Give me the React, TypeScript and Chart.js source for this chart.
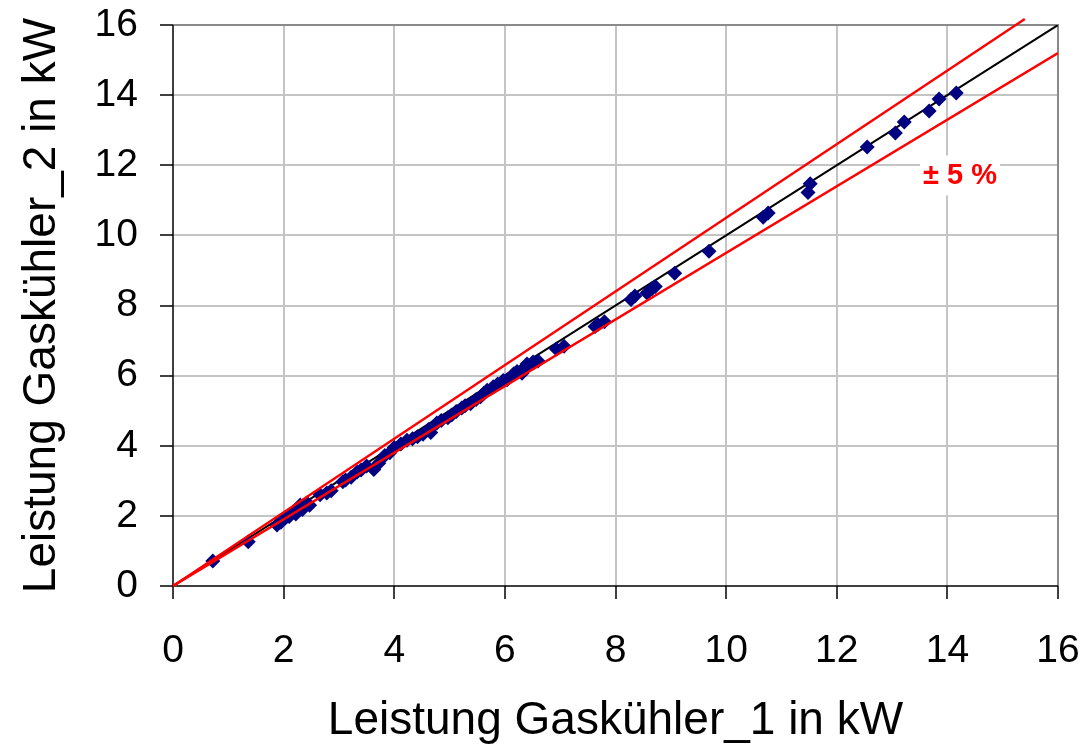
import React, { useEffect, useRef } from "react";
import { Chart, registerables } from "chart.js";

Chart.register(...registerables);

const measuredX = [
  0.72, 1.36, 1.88, 1.95, 2.03, 2.1, 2.17, 2.22, 2.3, 2.34, 2.42, 2.47, 2.66, 2.78, 2.86,
  3.07, 3.12, 3.22, 3.33, 3.4, 3.5, 3.63, 3.72, 3.83, 3.92, 4.0, 4.12, 4.23, 4.33, 4.42,
  4.52, 4.62, 4.66, 4.77, 4.85, 4.97, 5.04, 5.12, 5.22, 5.28, 5.38, 5.48, 5.56, 5.62, 5.68,
  5.79, 5.87, 5.97, 6.04, 6.16, 6.22, 6.31, 6.36, 6.4, 6.51, 6.6, 6.93, 7.07, 7.63, 7.68,
  7.8, 8.28, 8.35, 8.57, 8.66, 8.72, 9.07, 9.69, 10.67, 10.76, 11.48, 11.52, 12.55, 13.06,
  13.22, 13.67, 13.85, 14.16,
];
const measuredY = [
  0.71, 1.26, 1.74, 1.82, 1.94, 1.98, 2.11, 2.05, 2.31, 2.18, 2.37, 2.3, 2.6, 2.65, 2.72,
  2.97, 3.02, 3.1, 3.25, 3.31, 3.42, 3.32, 3.5, 3.72, 3.8, 3.95, 4.05, 4.16, 4.2, 4.26,
  4.33, 4.46, 4.38, 4.65, 4.72, 4.8, 4.88, 4.98, 5.08, 5.14, 5.2, 5.32, 5.4, 5.5, 5.58,
  5.68, 5.76, 5.86, 5.88, 6.05, 6.12, 6.07, 6.22, 6.33, 6.39, 6.42, 6.76, 6.84, 7.4, 7.46,
  7.54, 8.17, 8.27, 8.36, 8.48, 8.54, 8.92, 9.55, 10.52, 10.64, 11.22, 11.47, 12.52, 12.92,
  13.23, 13.55, 13.89, 14.06,
];

const diagX = [0, 16];
const diagY = [0, 16];
const upperX = [0, 15.4];
const upperY = [0, 16.17];
const lowerX = [0, 16];
const lowerY = [0, 15.2];

const tickValues = [0, 2, 4, 6, 8, 10, 12, 14, 16];
const xTitle = "Leistung Gaskühler_1 in kW";
const yTitle = "Leistung Gaskühler_2 in kW";
const bandLabel = "± 5 %";
const bandLabelPos = { x: 14.23, y: 11.68 };

const FONT = "'Liberation Sans', Arial, sans-serif";

const zip = (xs: number[], ys: number[]) => xs.map((x, i) => ({ x, y: ys[i] }));

const gridColor = (c: any) =>
  c.tick && c.tick.value === 0 ? "rgba(0,0,0,0)" : c.tick && c.tick.value === 16 ? "#8a8a8a" : "#c4c4c4";

export default function App() {
  const ref = useRef<HTMLCanvasElement | null>(null);

  useEffect(() => {
    if (!ref.current) return;

    const labelPlugin = {
      id: "bandLabel",
      afterDatasetsDraw(chart: any) {
        const { ctx, scales } = chart;
        const px = scales.x.getPixelForValue(bandLabelPos.x);
        const py = scales.y.getPixelForValue(bandLabelPos.y);
        ctx.save();
        ctx.fillStyle = "#ffffff";
        ctx.fillRect(px - 40, py - 21, 80, 40);
        ctx.font = `bold 29px ${FONT}`;
        ctx.fillStyle = "#ff0000";
        ctx.textAlign = "center";
        ctx.textBaseline = "middle";
        ctx.fillText(bandLabel, px, py);
        ctx.restore();
      },
    };

    const frameBorder = {
      id: "frameBorder",
      beforeDatasetsDraw(chart: any) {
        const { ctx, chartArea } = chart;
        ctx.save();
        ctx.strokeStyle = "#8a8a8a";
        ctx.lineWidth = 2;
        ctx.beginPath();
        ctx.moveTo(chartArea.left, chartArea.top);
        ctx.lineTo(chartArea.right, chartArea.top);
        ctx.lineTo(chartArea.right, chartArea.bottom);
        ctx.stroke();
        ctx.strokeStyle = "#000000";
        ctx.lineWidth = 1.5;
        ctx.beginPath();
        ctx.moveTo(chartArea.left, chartArea.top);
        ctx.lineTo(chartArea.left, chartArea.bottom);
        ctx.lineTo(chartArea.right, chartArea.bottom);
        ctx.stroke();
        ctx.restore();
      },
    };

    const zeroPad = (s: any) => {
      s.paddingLeft = 0;
      s.paddingRight = 0;
      s.paddingTop = 0;
      s.paddingBottom = 0;
    };

    const chart = new Chart(ref.current, {
      type: "scatter",
      data: {
        datasets: [
          {
            label: "Messwerte",
            data: zip(measuredX, measuredY),
            backgroundColor: "#000080",
            borderColor: "#000080",
            pointStyle: "rectRot",
            pointRadius: 7.5,
            pointBorderWidth: 0,
            showLine: false,
            order: 1,
          },
          {
            label: "1:1",
            data: zip(diagX, diagY),
            type: "line",
            borderColor: "#000000",
            borderWidth: 2,
            pointRadius: 0,
            fill: false,
            order: 2,
          },
          {
            label: "+5%",
            data: zip(upperX, upperY),
            type: "line",
            borderColor: "#ff0000",
            borderWidth: 2.4,
            pointRadius: 0,
            fill: false,
            clip: 10,
            order: 0,
          },
          {
            label: "-5%",
            data: zip(lowerX, lowerY),
            type: "line",
            borderColor: "#ff0000",
            borderWidth: 2.4,
            pointRadius: 0,
            fill: false,
            order: 0,
          },
        ],
      } as any,
      options: {
        responsive: false,
        animation: false,
        events: [],
        layout: { padding: { left: 0, top: 25, right: 26, bottom: 0 } },
        plugins: {
          legend: { display: false },
          tooltip: { enabled: false },
        },
        scales: {
          x: {
            type: "linear",
            min: 0,
            max: 16,
            afterBuildTicks: (s: any) => {
              s.ticks = tickValues.map((v) => ({ value: v }));
            },
            afterFit: (s: any) => {
              s.height = 749 - 586;
              zeroPad(s);
            },
            grid: {
              color: gridColor,
              lineWidth: 2,
              tickColor: "#000000",
              tickLength: 13,
              tickWidth: 1.5,
            },
            border: { display: false },
            ticks: {
              color: "#000000",
              font: { family: FONT, size: 39 },
              padding: 29,
              maxRotation: 0,
            },
            title: {
              display: true,
              text: xTitle,
              color: "#000000",
              font: { family: FONT, size: 46 },
              padding: { top: 0, bottom: 0 },
            },
          },
          y: {
            type: "linear",
            min: 0,
            max: 16,
            afterBuildTicks: (s: any) => {
              s.ticks = tickValues.map((v) => ({ value: v }));
            },
            afterFit: (s: any) => {
              s.width = 173;
              zeroPad(s);
            },
            grid: {
              color: gridColor,
              lineWidth: 2,
              tickColor: "#000000",
              tickLength: 13,
              tickWidth: 1.5,
            },
            border: { display: false },
            ticks: {
              color: "#000000",
              font: { family: FONT, size: 39 },
              padding: 22,
            },
            title: {
              display: true,
              text: yTitle,
              color: "#000000",
              font: { family: FONT, size: 46 },
              padding: { top: 15, bottom: 0 },
            },
          },
        },
      } as any,
      plugins: [frameBorder, labelPlugin],
    });

    return () => chart.destroy();
  }, []);

  return (
    <div style={{ position: "fixed", left: 0, top: 0, width: 1084, height: 749, background: "#ffffff" }}>
      <canvas ref={ref} width={1084} height={749} style={{ display: "block" }} />
    </div>
  );
}
